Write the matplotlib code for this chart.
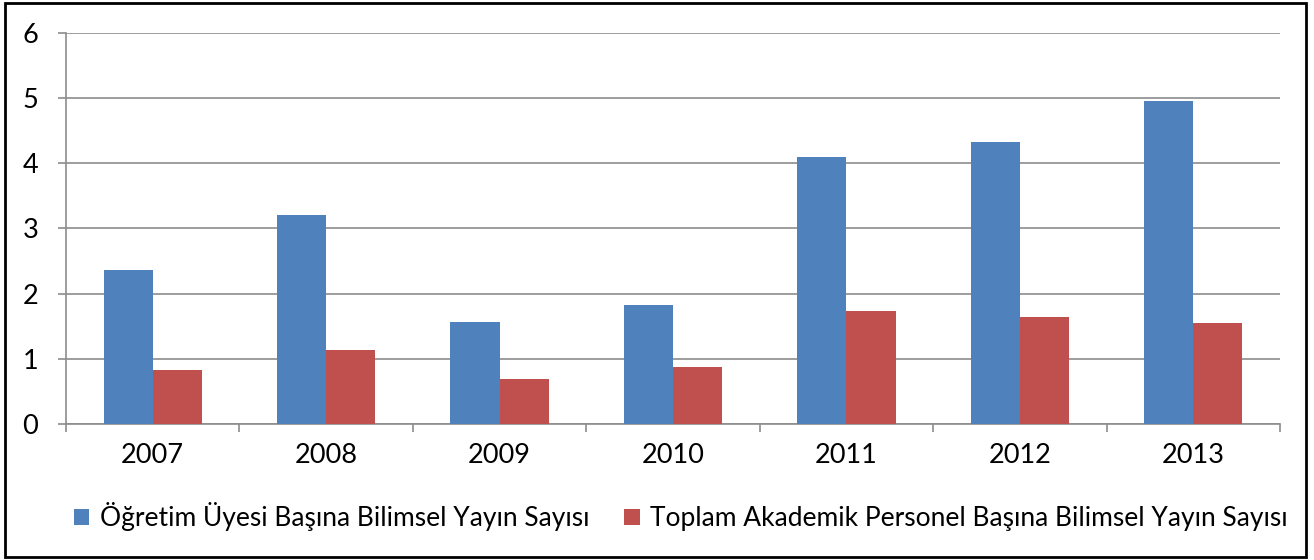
import matplotlib.pyplot as plt
import numpy as np
from matplotlib.patches import Rectangle

years = ["2007", "2008", "2009", "2010", "2011", "2012", "2013"]
ogretim = [2.36, 3.21, 1.56, 1.83, 4.10, 4.32, 4.96]
toplam = [0.82, 1.13, 0.69, 0.88, 1.73, 1.64, 1.55]
labels = ["Öğretim Üyesi Başına Bilimsel Yayın Sayısı",
          "Toplam Akademik Personel Başına Bilimsel Yayın Sayısı"]

plt.rcParams['font.family'] = ['Lato', 'DejaVu Sans']

fig = plt.figure(figsize=(13.14, 5.6), dpi=100)
ax = fig.add_axes([0.0502, 0.243, 0.924, 0.698])

x = np.arange(len(years))
w = 0.283
ax.bar(x - w / 2, ogretim, w, color='#4F81BD', label=labels[0], zorder=3)
ax.bar(x + w / 2, toplam, w, color='#C0504D', label=labels[1], zorder=3)

ax.set_xlim(-0.5, len(years) - 0.5)
ax.set_ylim(0, 6)
ax.set_yticks(range(7))
ax.yaxis.grid(True, color='#8c8c8c', linewidth=1.2, zorder=0)
ax.set_xticks(x)
ax.set_xticklabels(years)
ax.set_xticks(np.arange(-0.5, len(years)), minor=True)
ax.tick_params(axis='x', which='major', length=0, labelsize=19.5, pad=14)
ax.tick_params(axis='x', which='minor', length=6, color='#8c8c8c', width=1.2)
ax.tick_params(axis='y', length=6, color='#8c8c8c', width=1.2, labelsize=19.5, pad=14)
for s in ['top', 'right']:
    ax.spines[s].set_visible(False)
for s in ['left', 'bottom']:
    ax.spines[s].set_color('#8c8c8c')
    ax.spines[s].set_linewidth(1.2)

fig.legend(loc='center', bbox_to_anchor=(0.518, 0.077), ncol=2, frameon=False,
           fontsize=19, handlelength=0.6, handleheight=0.6, handletextpad=0.4,
           columnspacing=1.3)

fig.patches.append(Rectangle((0.004, 0.005), 0.99, 0.99, transform=fig.transFigure,
                             fill=False, edgecolor='black', linewidth=2))

fig.savefig('out.png', dpi=100)
